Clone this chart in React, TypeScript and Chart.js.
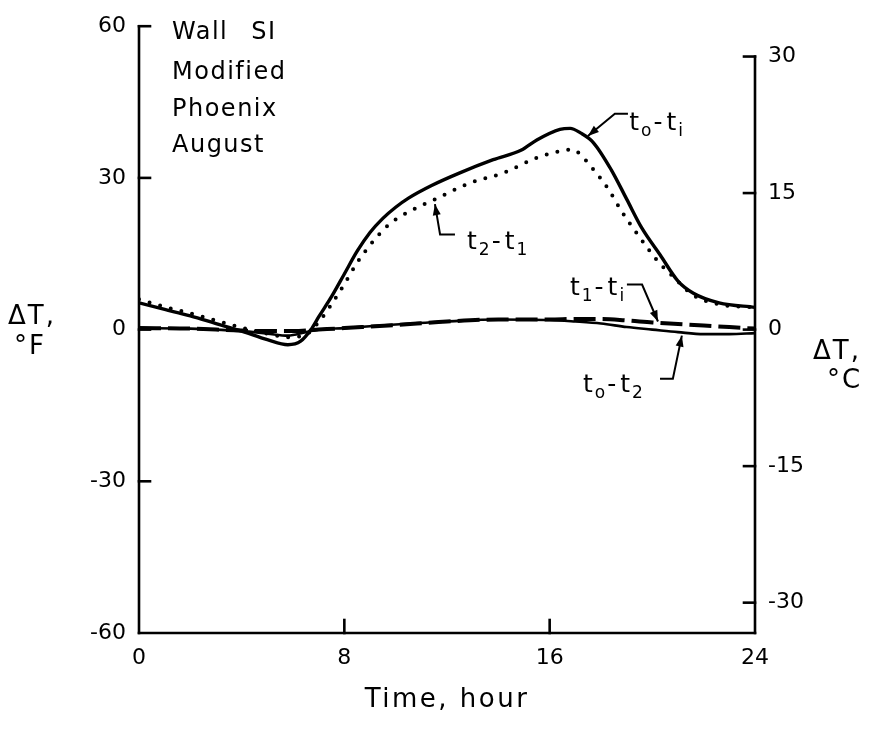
import React, { useEffect, useRef } from "react";
import { Chart, registerables } from "chart.js";

Chart.register(...registerables);

// ---- data ----
const hoursToTi = [0, 1, 2, 3, 4, 5, 5.8, 6.3, 6.7, 7, 7.5, 8, 8.5, 9, 9.5, 10, 10.5, 11.4, 12.5, 13.8, 14.9, 15.5, 16.4, 16.8, 17.2, 17.7, 18.4, 19, 19.6, 20.3, 21, 21.6, 22.6, 24];
const valsToTi = [5.3, 4, 2.7, 1.2, -0.3, -2, -3, -2.3, 0, 2.5, 6.5, 11, 15.5, 19.2, 22, 24.2, 26, 28.5, 31, 33.6, 35.5, 37.5, 39.6, 39.8, 38.9, 37, 31.6, 25.8, 20, 14.8, 9.6, 7.2, 5.3, 4.4];

const hoursT2T1 = [0, 1, 2, 3, 4, 5, 5.8, 6.5, 7, 7.5, 8, 8.6, 9.7, 10.7, 11.5, 12.9, 14.2, 15.5, 16.4, 16.9, 17.2, 17.7, 18, 18.3, 18.8, 19.4, 19.8, 20.3, 20.7, 21.6, 22.6, 24];
const valsT2T1 = [6, 4.5, 3.2, 1.8, 0.4, -0.8, -1.5, -1, 1.5, 5, 9, 14, 20.6, 23.8, 25.7, 29, 31, 34, 35.3, 35.6, 34.6, 31.7, 29.8, 27.7, 23.4, 19, 16.2, 13, 11, 6.8, 5, 4.4];

const hoursT1Ti = [0, 2, 4, 6, 7, 8, 10, 12, 14, 16, 17, 18, 19, 20, 21, 22, 23, 24];
const valsT1Ti = [0.3, 0.2, -0.2, -0.3, 0, 0.3, 0.9, 1.6, 2, 2, 2.1, 2.1, 1.8, 1.4, 1.1, 0.8, 0.5, 0.2];

const hoursToT2 = [0, 2, 4, 5, 5.8, 6.5, 7, 8, 10, 12, 14, 16, 17, 18, 19, 20, 21, 22, 23, 24];
const valsToT2 = [0.3, 0.2, -0.3, -0.8, -1.2, -0.5, 0, 0.3, 1, 1.6, 2, 1.9, 1.6, 1.2, 0.5, 0, -0.5, -0.9, -0.9, -0.7];

const xTicks = [0, 8, 16, 24];
const leftTicksF = [-60, -30, 0, 30, 60];
const rightTicksC = [-30, -15, 0, 15, 30];
const noteLines = ["Wall SI", "Modified", "Phoenix", "August"];

const FONT = "'DejaVu Sans', 'Liberation Sans', sans-serif";

type Part = [string, boolean];
interface Note {
  parts: Part[];
  at: [number, number]; // text start (hour, °F)
  leader: [number, number][]; // polyline ending at arrow tip (hour, °F)
}
const notes: Note[] = [
  { parts: [["t", false], ["o", true], ["-", false], ["t", false], ["i", true]], at: [19.1, 39.4], leader: [[19.05, 42.7], [18.54, 42.7], [17.49, 38.3]] },
  { parts: [["t", false], ["2", true], ["-", false], ["t", false], ["1", true]], at: [12.78, 16.0], leader: [[12.31, 18.8], [11.73, 18.8], [11.53, 24.8]] },
  { parts: [["t", false], ["1", true], ["-", false], ["t", false], ["i", true]], at: [16.79, 6.8], leader: [[19.01, 8.9], [19.6, 8.9], [20.22, 1.6]] },
  { parts: [["t", false], ["o", true], ["-", false], ["t", false], ["2", true]], at: [17.3, -12.3], leader: [[20.3, -9.7], [20.8, -9.7], [21.15, -1.2]] },
];

const pts = (xs: number[], ys: number[]) => xs.map((x, i) => ({ x, y: ys[i] }));

function drawParts(ctx: CanvasRenderingContext2D, x: number, y: number, parts: Part[]) {
  let cx = x;
  ctx.textBaseline = "alphabetic";
  ctx.textAlign = "left";
  for (const [t, sub] of parts) {
    ctx.font = sub ? `17px ${FONT}` : `25px ${FONT}`;
    const yy = sub ? y + 6 : y;
    ctx.fillText(t, cx, yy);
    cx += ctx.measureText(t).width + (t === "-" ? 4 : 2);
  }
}

const decor = {
  id: "decor",
  afterDraw(chart: any) {
    const ctx: CanvasRenderingContext2D = chart.ctx;
    const { left, right, top, bottom } = chart.chartArea;
    const xs = chart.scales.x;
    const yl = chart.scales.y;
    const yr = chart.scales.yR;
    ctx.save();
    ctx.strokeStyle = "#000";
    ctx.fillStyle = "#000";
    ctx.lineWidth = 2.6;
    ctx.lineCap = "square";
    const line = (x1: number, y1: number, x2: number, y2: number) => {
      ctx.beginPath();
      ctx.moveTo(x1, y1);
      ctx.lineTo(x2, y2);
      ctx.stroke();
    };
    // axes
    line(left, top, left, bottom);
    line(left, bottom, right, bottom);
    line(right, yr.getPixelForValue(30), right, bottom);
    // inward ticks
    for (const v of leftTicksF) {
      if (v === -60) continue;
      const y = yl.getPixelForValue(v);
      line(left, y, left + 11, y);
    }
    for (const v of rightTicksC) {
      const y = yr.getPixelForValue(v);
      line(right - 11, y, right, y);
    }
    for (const v of xTicks) {
      if (v === 0 || v === 24) continue;
      const x = xs.getPixelForValue(v);
      line(x, bottom, x, bottom - 13);
    }

    // axis titles
    ctx.textAlign = "left";
    ctx.textBaseline = "alphabetic";
    ctx.font = `26px ${FONT}`;
    (ctx as any).letterSpacing = "2px";
    ctx.fillText("ΔT,", 8, 324);
    ctx.fillText("°F", 14, 354);
    ctx.fillText("ΔT,", 813, 359);
    ctx.fillText("°C", 827, 388);
    ctx.font = `26px ${FONT}`;
    (ctx as any).letterSpacing = "2.5px";
    ctx.textAlign = "center";
    ctx.fillText("Time, hour", (left + right) / 2, 707);

    // note block
    ctx.textAlign = "left";
    ctx.font = `24px ${FONT}`;
    (ctx as any).letterSpacing = "1.5px";
    (ctx as any).wordSpacing = "14px";
    const baselines = [39, 79, 116, 152];
    noteLines.forEach((t, i) => ctx.fillText(t, 172, baselines[i]));
    (ctx as any).letterSpacing = "0px";
    (ctx as any).wordSpacing = "0px";

    // curve labels with leaders
    for (const n of notes) {
      drawParts(ctx, xs.getPixelForValue(n.at[0]), yl.getPixelForValue(n.at[1]), n.parts);
      const p = n.leader.map(([h, v]) => [xs.getPixelForValue(h), yl.getPixelForValue(v)]);
      ctx.lineWidth = 2;
      ctx.lineCap = "butt";
      ctx.beginPath();
      ctx.moveTo(p[0][0], p[0][1]);
      for (let i = 1; i < p.length; i++) ctx.lineTo(p[i][0], p[i][1]);
      ctx.stroke();
      const [ax, ay] = p[p.length - 1];
      const [bx, by] = p[p.length - 2];
      const ang = Math.atan2(ay - by, ax - bx);
      const L = 11, W = 4;
      ctx.beginPath();
      ctx.moveTo(ax, ay);
      ctx.lineTo(ax - L * Math.cos(ang) + W * Math.sin(ang), ay - L * Math.sin(ang) - W * Math.cos(ang));
      ctx.lineTo(ax - L * Math.cos(ang) - W * Math.sin(ang), ay - L * Math.sin(ang) + W * Math.cos(ang));
      ctx.closePath();
      ctx.fill();
    }
    ctx.restore();
  },
};

export default function App() {
  const ref = useRef<HTMLCanvasElement>(null);
  useEffect(() => {
    if (!ref.current) return;
    const chart = new Chart(ref.current, {
      type: "line",
      data: {
        datasets: [
          { label: "to-ti", data: pts(hoursToTi, valsToTi), borderColor: "#000", borderWidth: 3.4, pointRadius: 0, cubicInterpolationMode: "monotone", fill: false },
          { label: "t2-t1", data: pts(hoursT2T1, valsT2T1), borderColor: "#000", borderWidth: 4, borderDash: [0, 11], borderCapStyle: "round", pointRadius: 0, cubicInterpolationMode: "monotone", fill: false },
          { label: "t1-ti", data: pts(hoursT1Ti, valsT1Ti), borderColor: "#000", borderWidth: 4, borderDash: [22, 7], pointRadius: 0, cubicInterpolationMode: "monotone", fill: false },
          { label: "to-t2", data: pts(hoursToT2, valsToT2), borderColor: "#000", borderWidth: 2.6, pointRadius: 0, cubicInterpolationMode: "monotone", fill: false },
        ] as any,
      },
      options: {
        animation: false,
        responsive: false,
        events: [],
        layout: { padding: { top: 22, left: 0, right: 0, bottom: 0 } },
        plugins: { legend: { display: false }, tooltip: { enabled: false }, title: { display: false } },
        scales: {
          x: {
            type: "linear",
            min: 0,
            max: 24,
            grid: { display: false, drawTicks: false },
            border: { display: false },
            afterBuildTicks: (s: any) => { s.ticks = xTicks.map((v) => ({ value: v })); },
            afterFit: (s: any) => { s.height = 730 - 633; },
            ticks: { color: "#000", font: { family: FONT, size: 22 }, padding: 12, maxRotation: 0, callback: (v: any) => String(v) },
          },
          y: {
            type: "linear",
            position: "left",
            min: -60,
            max: 60,
            grid: { display: false, drawTicks: false },
            border: { display: false },
            afterBuildTicks: (s: any) => { s.ticks = leftTicksF.map((v) => ({ value: v })); },
            afterFit: (s: any) => { s.width = 139; },
            ticks: { color: "#000", font: { family: FONT, size: 22 }, padding: 13, callback: (v: any) => String(v) },
          },
          yR: {
            type: "linear",
            position: "right",
            min: -60 / 1.8,
            max: 60 / 1.8,
            grid: { display: false, drawTicks: false },
            border: { display: false },
            afterBuildTicks: (s: any) => { s.ticks = rightTicksC.map((v) => ({ value: v })); },
            afterFit: (s: any) => { s.width = 878 - 755; },
            ticks: { color: "#000", font: { family: FONT, size: 22 }, padding: 13, callback: (v: any) => String(v) },
          },
        },
      } as any,
      plugins: [decor],
    });
    return () => chart.destroy();
  }, []);
  return (
    <div style={{ position: "absolute", left: 0, top: 0, width: 878, height: 730, background: "#fff" }}>
      <canvas ref={ref} width={878} height={730} style={{ display: "block" }} />
    </div>
  );
}
